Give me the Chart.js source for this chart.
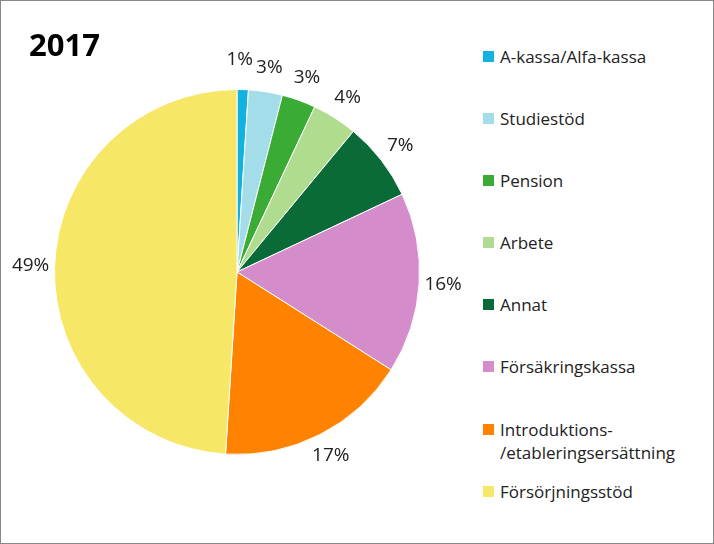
<!DOCTYPE html>
<html><head><meta charset="utf-8">
<script src="https://cdn.jsdelivr.net/npm/chart.js@4"></script>
<style>
body{margin:0;background:#fff;font-family:"Open Sans",sans-serif}
#wrap{position:relative;width:712px;height:542px;border:1px solid #888}
#title{position:absolute;left:28px;top:22px;font-size:31px;font-weight:bold;color:#000}
#c{position:absolute;left:0;top:0}
#legend{position:absolute;left:482px;top:0}
.item{position:absolute;left:0;white-space:nowrap;font-size:17px;color:#222;line-height:23px}
.sw{position:absolute;left:0;top:6px;width:11px;height:11px}
.item span.t{margin-left:17px;display:block}
</style></head>
<body>
<div id="wrap">
<canvas id="c" width="472" height="542"></canvas>
<div id="title">2017</div>
<div id="legend"></div>
</div>
<script>
const categories = ['A-kassa/Alfa-kassa','Studiestöd','Pension','Arbete','Annat','Försäkringskassa','Introduktions-\n/etableringsersättning','Försörjningsstöd'];
const values = [1, 3, 3, 4, 7, 16, 17, 49];
const colors = ['#12b2e0','#a3dde9','#3aac35','#b0dc8f','#0a6b38','#d48ccb','#ff8200','#f6e766'];
const legendTops = [44, 106, 168, 230, 292, 354, 417, 479];

const legend = document.getElementById('legend');
categories.forEach((c, i) => {
    const d = document.createElement('div');
    d.className = 'item';
    d.style.top = legendTops[i] + 'px';
    d.innerHTML = `<div class="sw" style="background:${colors[i]}"></div><span class="t">${c.replace('\n','<br>')}</span>`;
    legend.appendChild(d);
});

const pctLabels = {
    id: 'pctLabels',
    afterDraw(chart) {
        const ctx = chart.ctx;
        ctx.save();
        ctx.font = '19px "Open Sans", sans-serif';
        ctx.fillStyle = '#222';
        ctx.textAlign = 'center';
        ctx.textBaseline = 'middle';
        chart.getDatasetMeta(0).data.forEach((arc, i) => {
            const p = arc.getProps(['x','y','startAngle','endAngle','outerRadius']);
            const a = (p.startAngle + p.endAngle) / 2;
            let r = p.outerRadius + 24;
            if (i === 0) r += 6;
            let x = p.x + Math.cos(a) * r, y = p.y + Math.sin(a) * r;
            if (i === 0) x -= 4;
            ctx.fillText(values[i] + '%', x, y);
        });
        ctx.restore();
    }
};

new Chart(document.getElementById('c'), {
    type: 'pie',
    data: { labels: categories, datasets: [{ data: values, backgroundColor: colors, borderColor: '#fff', borderWidth: 1 }] },
    options: {
        responsive: false,
        animation: false,
        layout: { padding: 53 },
        plugins: { legend: { display: false }, tooltip: { enabled: false } }
    },
    plugins: [pctLabels]
});
</script>
</body></html>
